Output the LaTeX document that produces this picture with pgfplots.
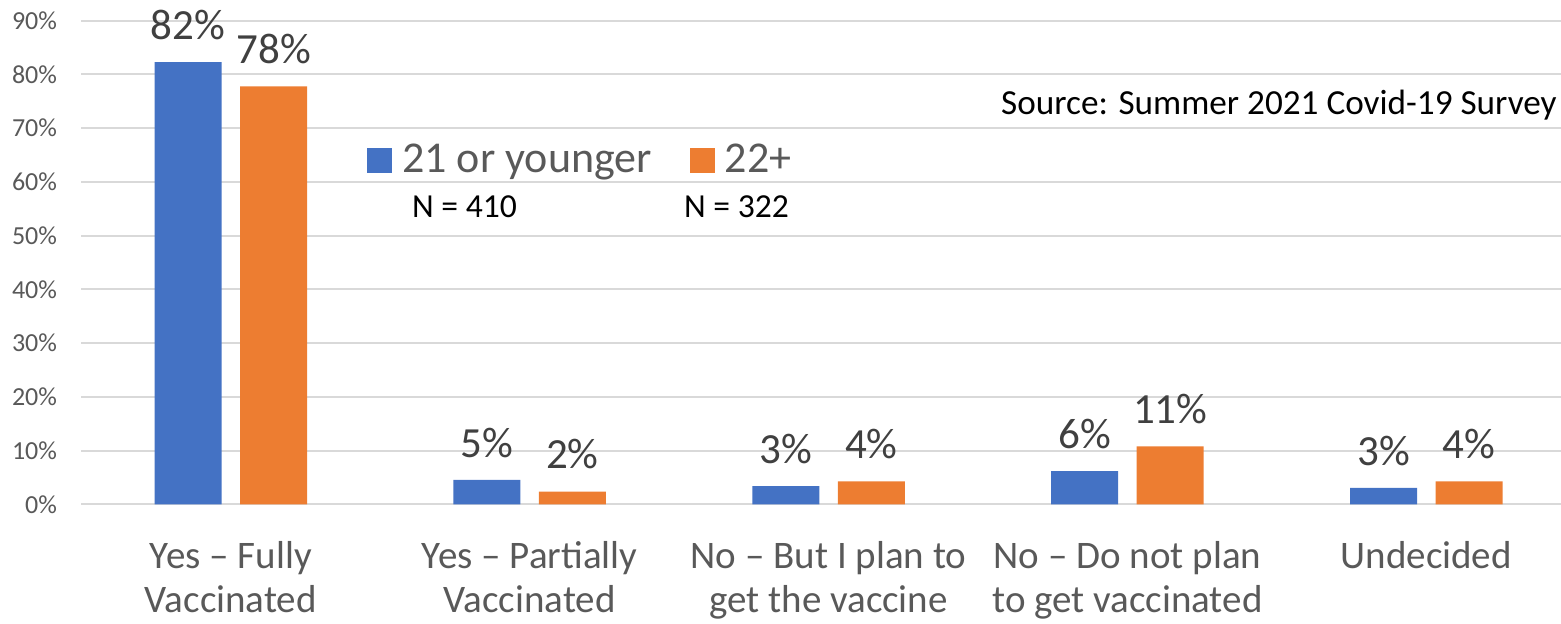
\documentclass[border=0pt]{standalone}
\usepackage{pgfplots}
\pgfplotsset{compat=1.18}
\usepackage{fontspec}
\setmainfont{Carlito}

\definecolor{cblue}{HTML}{4472C4}
\definecolor{corange}{HTML}{ED7D31}
\definecolor{cgrid}{HTML}{D9D9D9}
\definecolor{ctick}{HTML}{595959}
\definecolor{clab}{HTML}{404040}

% x = category index, y = bar height, lab = printed label
\pgfplotstableread{
x y lab
0 82.3 82
1 4.6 5
2 3.4 3
3 6.2 6
4 3.1 3
}\young
\pgfplotstableread{
x y lab
0 77.8 78
1 2.4 2
2 4.3 4
3 10.8 11
4 4.3 4
}\old

\begin{document}
\begin{tikzpicture}
\begin{axis}[
  name=ax,
  scale only axis,
  width=747.15pt, height=241.9pt,
  ybar=9.25pt, bar width=33.5pt,
  xmin=-0.5, xmax=4.5,
  ymin=0, ymax=90,
  axis line style={draw=none},
  major tick length=0pt,
  ymajorgrids,
  major grid style={draw=cgrid, line width=1pt},
  ytick={0,10,...,90},
  yticklabels={0\%,10\%,20\%,30\%,40\%,50\%,60\%,70\%,80\%,90\%},
  yticklabel style={font=\fontsize{13}{15}\selectfont, text=ctick, anchor=east, inner sep=0pt, xshift=-12pt},
  xtick={0,1,2,3,4},
  xticklabels={{Yes – Fully\\Vaccinated},{Yes – Partially\\Vaccinated},{No – But I plan to\\get the vaccine},{No – Do not plan\\to get vaccinated},{Undecided}},
  xticklabel style={font=\fontsize{19.5}{22}\selectfont, text=ctick, align=center, anchor=north, inner sep=0pt, yshift=-18.5pt},
  point meta=explicit symbolic,
  nodes near coords={\pgfplotspointmeta\%},
  nodes near coords style={font=\fontsize{21.5}{24}\selectfont, text=clab, anchor=south, inner sep=0pt, yshift=11pt},
  legend style={at={(0.1911,0.712)}, anchor=west, draw=none, fill=none, inner sep=0pt,
    font=\fontsize{22}{24}\selectfont, text=ctick, legend columns=2,
    /tikz/every even column/.append style={column sep=17pt}},
  legend image code/.code={\fill[#1] (0pt,-6.25pt) rectangle (12.5pt,6.25pt); \path (15.5pt,0pt);},
]
\addplot[fill=cblue, draw=none] table[x=x, y=y, meta=lab] {\young};
\addplot[fill=corange, draw=none] table[x=x, y=y, meta=lab] {\old};
\legend{21 or younger, 22+}
\node[font=\fontsize{16.8}{18}\selectfont, anchor=center] at (rel axis cs:0.2564,0.615) {N = 410};
\node[font=\fontsize{16.8}{18}\selectfont, anchor=center] at (rel axis cs:0.4384,0.615) {N = 322};
\node[font=\fontsize{17.6}{19}\selectfont, anchor=east, inner sep=0pt] at (rel axis cs:0.9875,0.8258) {Source: Summer 2021 Covid-19 Survey};
\end{axis}
\pgfresetboundingbox
\path ([xshift=-40.7pt,yshift=-59.75pt]ax.south west) rectangle ([xshift=-7.35pt,yshift=10.35pt]ax.north east);
\end{tikzpicture}
\end{document}
